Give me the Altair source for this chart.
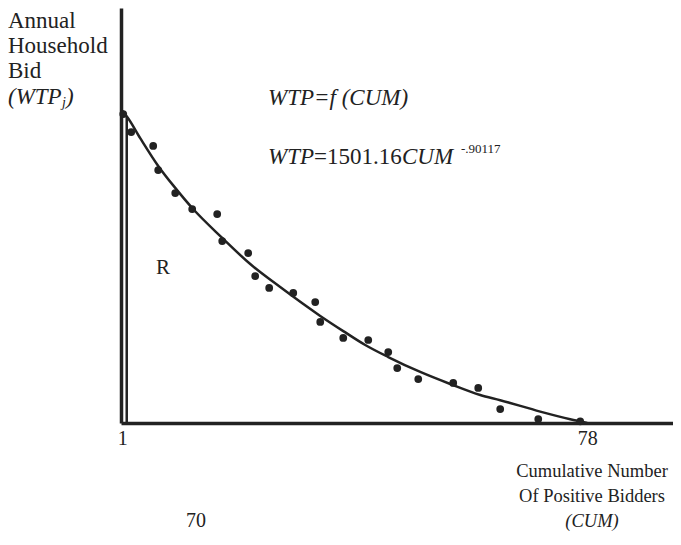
import altair as alt
import pandas as pd

# ---- data (WTP in nominal bid units) ----
curve_cum = [1.0, 1.83, 3.98, 6.96, 9.78, 12.59, 17.56, 22.2, 27.16, 33.79, 37.6,
             41.24, 45.05, 50.35, 55.31, 60.28, 63.59, 70.22, 75.18, 78.0]
curve_wtp = [1504, 1475, 1373, 1239, 1133, 1036, 892, 766, 655, 516, 443,
             376, 318, 246, 188, 135, 110, 55, 18, 0]

bid_cum = [1.17, 2.49, 6.13, 6.96, 9.78, 12.59, 16.73, 17.56, 21.86, 23.02, 25.34, 29.32,
           32.96, 33.79, 37.6, 41.74, 45.05, 46.54, 50.02, 55.81, 59.95, 63.59, 69.89, 76.84]
bid_wtp = [1489, 1402, 1335, 1219, 1108, 1031, 1007, 877, 819, 708, 651, 627,
           583, 487, 410, 400, 342, 265, 212, 193, 169, 67, 19, 8]

first_bar_cum = [1.75]
first_bar_wtp = [1480]
x_tick_values = [1, 78]

INK = "#222222"
SERIF = "Liberation Serif"

xscale = alt.Scale(domain=[0.8, 92.2], nice=False, zero=False)
yscale = alt.Scale(domain=[0, 2000], nice=False, zero=False)

curve_df = pd.DataFrame({"CUM": curve_cum, "WTP": curve_wtp})
bids_df = pd.DataFrame({"CUM": bid_cum, "WTP": bid_wtp})
bar_df = pd.DataFrame({"CUM": first_bar_cum, "WTP": first_bar_wtp, "base": [0] * len(first_bar_cum)})

x_axis = alt.Axis(values=x_tick_values, title=None, grid=False, ticks=False,
                  domainColor=INK, domainWidth=3.5, labelFont=SERIF, labelFontSize=20,
                  labelColor=INK, labelPadding=5, format="d")
y_axis = alt.Axis(title=None, grid=False, ticks=False, labels=False,
                  domainColor=INK, domainWidth=3.5)

curve = alt.Chart(curve_df).mark_line(color=INK, strokeWidth=2.5, interpolate="monotone").encode(
    x=alt.X("CUM:Q", scale=xscale, axis=x_axis),
    y=alt.Y("WTP:Q", scale=yscale, axis=y_axis),
)
dots = alt.Chart(bids_df).mark_point(filled=True, size=60, color=INK, opacity=1).encode(
    x=alt.X("CUM:Q", scale=xscale), y=alt.Y("WTP:Q", scale=yscale)
)
bar = alt.Chart(bar_df).mark_rule(color=INK, strokeWidth=2.5).encode(
    x=alt.X("CUM:Q", scale=xscale), y=alt.Y("base:Q", scale=yscale), y2="WTP:Q"
)


def label(txt, x, y, size=18, italic=False, align="left", baseline="middle"):
    return alt.Chart(pd.DataFrame({"t": [txt]})).mark_text(
        font=SERIF, fontSize=size, fontStyle="italic" if italic else "normal",
        align=align, baseline=baseline, color=INK,
    ).encode(text="t:N", x=alt.value(x), y=alt.value(y))


texts = [
    label("Annual", -113, 13, size=23),
    label("Household", -113, 38, size=23),
    label("Bid", -113, 63, size=23),
    label("(WTP", -113, 89, size=23, italic=True),
    label("j", -59, 95, size=14, italic=True),
    label(")", -55, 89, size=23, italic=True),
    label("WTP=f (CUM)", 147, 90, size=23, italic=True),
    label("WTP", 147, 149, size=23, italic=True),
    label("=1501.16", 193, 149, size=23),
    label(" CUM", 281, 149, size=23, italic=True),
    label("-.90117", 340, 141, size=13),
    label("R", 42, 260, size=21, align="center"),
    label("Cumulative Number", 471, 463, size=18.5, align="center"),
    label("Of Positive Bidders", 471, 488, size=18.5, align="center"),
    label("(CUM)", 471, 513, size=18.5, italic=True, align="center"),
    label("70", 75, 513, size=20, align="center"),
]

chart = alt.layer(curve, bar, dots, *texts).properties(
    width=552, height=415,
    autosize=alt.AutoSizeParams(type="none"),
    padding={"left": 113, "top": 0, "right": 0, "bottom": 114},
    background="white",
).configure_view(stroke=None)

chart.save("out.html", embed_options={"renderer": "svg", "actions": False})
